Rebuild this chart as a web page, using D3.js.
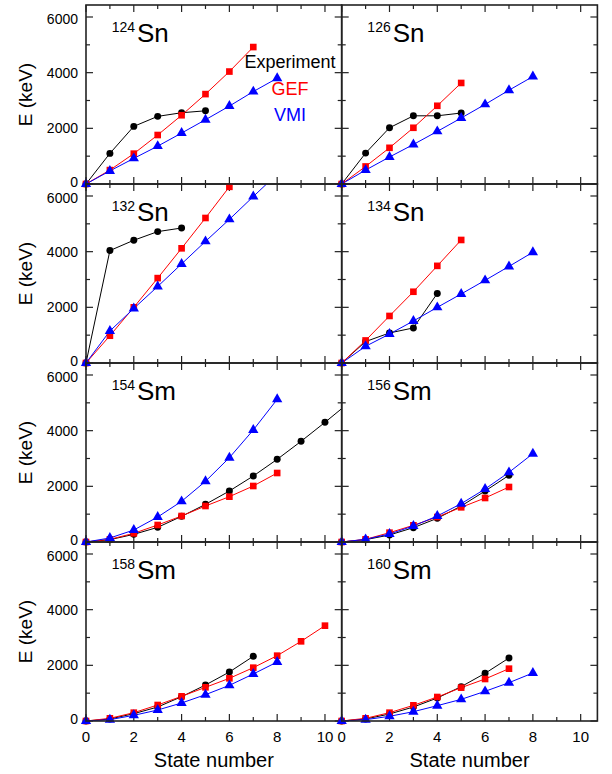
<!DOCTYPE html>
<html><head><meta charset="utf-8">
<script src="https://cdn.jsdelivr.net/npm/d3@7/dist/d3.min.js"></script>
<style>body{margin:0;background:#fff}svg{display:block}text{font-family:"Liberation Sans",Arial,sans-serif}</style>
</head><body><svg id="c" width="612" height="774"></svg>
<script>
// ---- data ----
const massNumbers = ["124","126","132","134","154","156","158","160"];
const elements = ["Sn","Sn","Sn","Sn","Sm","Sm","Sm","Sm"];
const seriesNames = ["Experiment","GEF","VMI"];
const xTicks = [0,2,4,6,8,10];
const yTicks = [0,2000,4000,6000];

const sn124_exp = [0,1100,2070,2430,2560,2630];
const sn124_gef = [0,500,1090,1760,2470,3230,4040,4920];
const sn124_vmi = [0,470,920,1360,1830,2310,2800,3320,3800];
const sn126_exp = [0,1110,2020,2450,2450,2550];
const sn126_gef = [0,630,1300,2020,2810,3630];
const sn126_vmi = [0,500,970,1420,1890,2370,2860,3370,3860];
const sn132_exp = [0,4040,4410,4720,4850];
const sn132_gef = [0,980,2000,3050,4120,5210,6330];
const sn132_vmi = [0,1150,1960,2750,3560,4370,5160,5980,6790];
const sn134_exp = [0,770,1080,1260,2500];
const sn134_gef = [0,810,1690,2560,3490,4420];
const sn134_vmi = [0,600,1040,1510,2000,2480,2970,3470,3980];
const sm154_exp = [0,84,275,527,922,1353,1832,2371,2970,3617,4299,5003];
const sm154_gef = [0,96,311,611,934,1293,1629,2012,2479];
const sm154_vmi = [0,144,431,898,1461,2180,3030,4024,5126];
const sm156_exp = [0,84,251,515,850,1293,1832,2395];
const sm156_gef = [0,96,335,599,898,1246,1581,1976];
const sm156_vmi = [0,96,287,575,934,1377,1904,2503,3174];
const sm158_exp = [0,72,263,503,874,1293,1760,2323];
const sm158_gef = [0,96,299,575,886,1210,1533,1916,2347,2862,3425];
const sm158_vmi = [0,48,204,395,647,946,1281,1689,2120];
const sm160_exp = [0,72,251,503,826,1234,1713,2263];
const sm160_gef = [0,96,299,563,862,1198,1509,1880];
const sm160_vmi = [0,48,168,335,551,778,1066,1377,1725];

const panelData = [
  [sn124_exp, sn124_gef, sn124_vmi],
  [sn126_exp, sn126_gef, sn126_vmi],
  [sn132_exp, sn132_gef, sn132_vmi],
  [sn134_exp, sn134_gef, sn134_vmi],
  [sm154_exp, sm154_gef, sm154_vmi],
  [sm156_exp, sm156_gef, sm156_vmi],
  [sm158_exp, sm158_gef, sm158_vmi],
  [sm160_exp, sm160_gef, sm160_vmi]
];

// ---- layout ----
const svg = d3.select("#c");
const padLeft = 86, padTop = 5, PW = 255.7, PH = 179;
const xMax = 10.7, yMax = 6431;
const colors = ["#000000", "#ff0000", "#0000ff"];
const symbols = [d3.symbolCircle, d3.symbolSquare, d3.symbolTriangle];
const symSizes = [38, 44, 46];

const defs = svg.append("defs");
defs.append("clipPath").attr("id","pclip").append("rect").attr("x",0).attr("y",0).attr("width",PW).attr("height",PH);

panelData.forEach((series, i) => {
  const col = i % 2, row = Math.floor(i / 2);
  const x = d3.scaleLinear().domain([0, xMax]).range([0, PW]);
  const y = d3.scaleLinear().domain([0, yMax]).range([PH, 0]);
  const g = svg.append("g").attr("transform", `translate(${padLeft + col * PW},${padTop + row * PH})`);

  // ticks (inward, all sides)
  const xt = d3.range(0, 11);
  const yt = d3.range(0, 7000, 1000);
  const tk = g.append("g").attr("stroke", "#222").attr("stroke-width", 1.2);
  xt.forEach(v => {
    const L = v % 2 === 0 ? 7 : 4;
    tk.append("line").attr("x1", x(v)).attr("x2", x(v)).attr("y1", PH).attr("y2", PH - L);
    tk.append("line").attr("x1", x(v)).attr("x2", x(v)).attr("y1", 0).attr("y2", L);
  });
  yt.forEach(v => {
    const L = v % 2000 === 0 ? 7 : 4;
    tk.append("line").attr("y1", y(v)).attr("y2", y(v)).attr("x1", 0).attr("x2", L);
    tk.append("line").attr("y1", y(v)).attr("y2", y(v)).attr("x1", PW).attr("x2", PW - L);
  });

  // tick labels
  if (col === 0) {
    g.selectAll(".yl").data(yTicks).enter().append("text")
      .attr("x", -8)
      .attr("y", d => y(d) + (d === 0 ? -1.6 : d === 6000 ? 1.6 : 0))
      .attr("dy", "0.36em")
      .attr("text-anchor", "end").attr("font-size", 14).text(d => d);
    g.append("text").attr("transform", `translate(${-61},${PH / 2}) rotate(-90)`)
      .attr("text-anchor", "middle").attr("dy", "0.36em").attr("font-size", 19).text("E (keV)");
  }
  if (row === 3) {
    g.selectAll(".xl").data(xTicks).enter().append("text")
      .attr("x", d => x(d)).attr("y", PH + 21)
      .attr("text-anchor", "middle").attr("font-size", 15).text(d => d);
    g.append("text").attr("x", x(5.35)).attr("y", PH + 46)
      .attr("text-anchor", "middle").attr("font-size", 20).text("State number");
  }

  // lines
  const line = d3.line().x((d, k) => x(k)).y(d => y(d));
  const lg = g.append("g").attr("clip-path", "url(#pclip)");
  series.forEach((vals, s) => {
    lg.append("path").attr("d", line(vals)).attr("fill", "none")
      .attr("stroke", colors[s]).attr("stroke-width", 1);
  });
  // markers
  series.forEach((vals, s) => {
    const pts = vals.map((v, k) => [k, v]).filter(p => p[0] <= xMax && p[1] <= yMax);
    g.selectAll(null).data(pts).enter().append("path")
      .attr("transform", p => `translate(${x(p[0])},${y(p[1])})`)
      .attr("d", d3.symbol().type(symbols[s]).size(symSizes[s]))
      .attr("fill", colors[s]);
  });

  // frame
  g.append("rect").attr("width", PW).attr("height", PH).attr("fill", "none")
    .attr("stroke", "#222").attr("stroke-width", 1.6);

  // nucleus label
  g.append("text").attr("x", 49).attr("y", 27).attr("text-anchor", "end")
    .attr("font-size", 14).text(massNumbers[i]);
  g.append("text").attr("x", 51).attr("y", 37).attr("font-size", 26).text(elements[i]);

  // legend (first panel)
  if (i === 0) {
    seriesNames.forEach((n, s) => {
      g.append("text").attr("x", 204).attr("y", 63 + s * 26.5)
        .attr("text-anchor", "middle").attr("font-size", 18).attr("fill", colors[s]).text(n);
    });
  }
});
</script></body></html>
